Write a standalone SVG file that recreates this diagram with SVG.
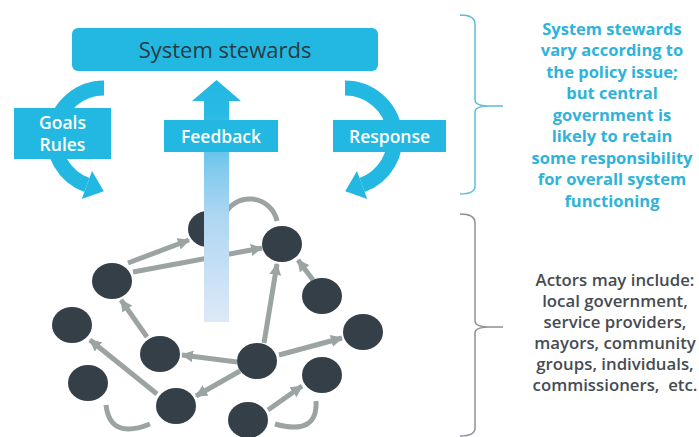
<svg xmlns="http://www.w3.org/2000/svg" width="699" height="437" viewBox="0 0 699 437">
  <defs>
    <linearGradient id="fbGrad" gradientUnits="userSpaceOnUse" x1="0" y1="80" x2="0" y2="322">
      <stop offset="0" stop-color="#22b8e2"/>
      <stop offset="0.14" stop-color="#28bae3"/>
      <stop offset="0.36" stop-color="#7fcaee"/>
      <stop offset="0.56" stop-color="#aed6f2"/>
      <stop offset="1" stop-color="#dde9f7"/>
    </linearGradient>
    <marker id="ah" markerUnits="userSpaceOnUse" markerWidth="12" markerHeight="12" refX="11" refY="6" orient="auto">
      <path d="M0,0 L12,6 L0,12 z" fill="#9ca3a3"/>
    </marker>
  </defs>
  <style>
    .cyan { fill: #22b8e2; }
    .arc { fill: none; stroke: #22b8e2; stroke-width: 15; stroke-linecap: butt; }
    .edge { fill: none; stroke: #9ca3a3; stroke-width: 5; stroke-linecap: butt; }
    .node { fill: #353f48; }
    .lbl { font-family: "Open Sans", Lato, sans-serif; font-weight: 600; font-size: 17.5px; fill: #ffffff; text-anchor: middle; }
    .title { font-family: "Open Sans", Lato, sans-serif; font-size: 22px; fill: #2b3a45; text-anchor: middle; }
    .note-blue { font-family: "Open Sans", Lato, sans-serif; font-weight: bold; font-size: 16.5px; fill: #2fb3da; text-anchor: middle; }
    .note-gray { font-family: "Open Sans", Lato, sans-serif; font-weight: 600; font-size: 16.8px; fill: #464c52; text-anchor: middle; }
    .brace-blue { fill: none; stroke: #5cbcd9; stroke-width: 1.5; }
    .brace-gray { fill: none; stroke: #8c9196; stroke-width: 1.5; }
  </style>

  <!-- connectors (network edges) -->
  <g id="connectors">
    <line class="edge" x1="128" y1="263" x2="189" y2="240" marker-end="url(#ah)"/>
    <line class="edge" x1="133" y1="272" x2="262" y2="248" marker-end="url(#ah)"/>
    <path class="edge" d="M223.7,216.4 A28,28 0 0 1 277,221"/>
    <line class="edge" x1="264" y1="343" x2="277" y2="264" marker-end="url(#ah)"/>
    <line class="edge" x1="313" y1="280" x2="298" y2="260" marker-end="url(#ah)"/>
    <line class="edge" x1="147" y1="337" x2="121" y2="300" marker-end="url(#ah)"/>
    <line class="edge" x1="237" y1="362" x2="182" y2="355" marker-end="url(#ah)"/>
    <line class="edge" x1="279" y1="355" x2="342" y2="338" marker-end="url(#ah)"/>
    <line class="edge" x1="240" y1="371" x2="196" y2="396" marker-end="url(#ah)"/>
    <line class="edge" x1="157" y1="394" x2="90" y2="340" marker-end="url(#ah)"/>
    <line class="edge" x1="268" y1="410" x2="302" y2="386" marker-end="url(#ah)"/>
    <path class="edge" d="M106,405 Q110,440 150,424"/>
    <path class="edge" d="M275,424 Q318,436 316,401"/>
  </g>

  <!-- actor nodes -->
  <g id="node-a"><ellipse class="node" cx="208" cy="229" rx="20" ry="18"/></g>
  <g id="node-b"><ellipse class="node" cx="282" cy="244" rx="20" ry="18"/></g>
  <g id="node-c"><ellipse class="node" cx="112" cy="281" rx="20" ry="18"/></g>
  <g id="node-d"><ellipse class="node" cx="322" cy="296" rx="20" ry="18"/></g>
  <g id="node-e"><ellipse class="node" cx="72" cy="325" rx="20" ry="18"/></g>
  <g id="node-f"><ellipse class="node" cx="363" cy="332" rx="20" ry="18"/></g>
  <g id="node-g"><ellipse class="node" cx="160" cy="354" rx="20" ry="18"/></g>
  <g id="node-h"><ellipse class="node" cx="257" cy="361" rx="20" ry="18"/></g>
  <g id="node-i"><ellipse class="node" cx="88" cy="383" rx="20" ry="18"/></g>
  <g id="node-j"><ellipse class="node" cx="322" cy="375" rx="20" ry="18"/></g>
  <g id="node-k"><ellipse class="node" cx="176" cy="406" rx="20" ry="18"/></g>
  <g id="node-l"><ellipse class="node" cx="248" cy="420" rx="20" ry="18"/></g>

  <!-- feedback arrow -->
  <g id="feedback-arrow">
    <path d="M216.5,80 L241,101 L229,101 L229,322 L204,322 L204,101 L192,101 Z" fill="url(#fbGrad)"/>
  </g>

  <!-- system stewards -->
  <g id="system-stewards">
    <rect class="cyan" x="72" y="28" width="306" height="43" rx="6"/>
    <text class="title" x="225" y="57.5">System stewards</text>
  </g>

  <!-- goals / rules curved arrow -->
  <g id="goals-rules">
    <path class="arc" d="M104,88 A50,50 0 0 0 86.9,185"/>
    <polygon class="cyan" points="81.8,199.1 92,170.9 103.8,191.2"/>
    <rect class="cyan" x="14" y="108" width="97" height="51"/>
    <text class="lbl" x="62.5" y="129">Goals</text>
    <text class="lbl" x="62.5" y="151">Rules</text>
  </g>

  <!-- feedback label -->
  <g id="feedback">
    <rect class="cyan" x="164" y="120" width="114" height="32"/>
    <text class="lbl" x="221" y="142.5">Feedback</text>
  </g>

  <!-- response curved arrow -->
  <g id="response">
    <path class="arc" d="M345,88 A50,50 0 0 1 362.1,185"/>
    <polygon class="cyan" points="367.2,199.1 357,170.9 345.2,191.2"/>
    <rect class="cyan" x="333" y="120" width="113" height="32"/>
    <text class="lbl" x="389.5" y="142.5">Response</text>
  </g>

  <!-- braces -->
  <g id="brace-stewards">
    <path class="brace-blue" d="M460,15 Q475,15 475,24 L475,100 Q475,106 490,106 L503,106 M490,106 Q475,106 475,112 L475,186 Q475,194 460,194"/>
  </g>
  <g id="brace-actors">
    <path class="brace-gray" d="M460,214 Q475,214 475,223 L475,321 Q475,327 490,327 L503,327 M490,327 Q475,327 475,333 L475,428 Q475,436 460,436"/>
  </g>

  <!-- notes -->
  <g id="note-stewards">
    <text class="note-blue" x="612" y="34.5">System stewards</text>
    <text class="note-blue" x="612" y="56">vary according to</text>
    <text class="note-blue" x="612" y="77.5">the policy issue;</text>
    <text class="note-blue" x="612" y="99">but central</text>
    <text class="note-blue" x="612" y="120.5">government is</text>
    <text class="note-blue" x="612" y="142">likely to retain</text>
    <text class="note-blue" x="612" y="163.5">some responsibility</text>
    <text class="note-blue" x="612" y="185">for overall system</text>
    <text class="note-blue" x="612" y="206.5">functioning</text>
  </g>
  <g id="note-actors">
    <text class="note-gray" x="615" y="286">Actors may include:</text>
    <text class="note-gray" x="615" y="307">local government,</text>
    <text class="note-gray" x="615" y="328">service providers,</text>
    <text class="note-gray" x="615" y="349">mayors, community</text>
    <text class="note-gray" x="615" y="370">groups, individuals,</text>
    <text class="note-gray" x="615" y="391">commissioners,&#160; etc.</text>
  </g>
</svg>
